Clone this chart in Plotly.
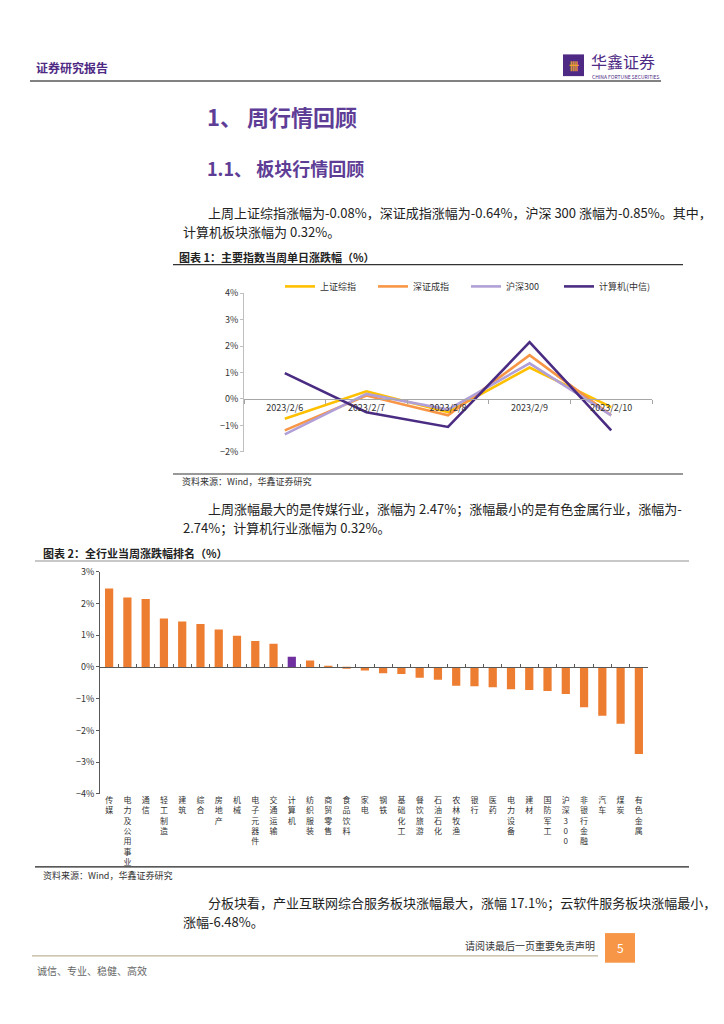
import plotly.graph_objects as go

W, H = 724, 1024
def X(px): return px / W
def Y(py): return 1 - py / H

FONT = "Noto Sans CJK SC"

# ---------- Chart 1 data ----------
dates = ["2023/2/6", "2023/2/7", "2023/2/8", "2023/2/9", "2023/2/10"]
sh_comp = [-0.75, 0.29, -0.50, 1.19, -0.31]      # 上证综指
sz_comp = [-1.19, 0.13, -0.62, 1.66, -0.62]      # 深证成指
hs300 = [-1.34, 0.19, -0.40, 1.35, -0.62]        # 沪深300
computer = [0.98, -0.50, -1.06, 2.15, -1.19]     # 计算机(中信)
series_names = ["上证综指", "深证成指", "沪深300", "计算机(中信)"]
series_colors = ["#FFC000", "#F79646", "#B1A0D8", "#4B2C83"]

# ---------- Chart 2 data ----------
industries = ["传媒", "电力及公用事业", "通信", "轻工制造", "建筑", "综合", "房地产", "机械",
              "电子元器件", "交通运输", "计算机", "纺织服装", "商贸零售", "食品饮料", "家电",
              "钢铁", "基础化工", "餐饮旅游", "石油石化", "农林牧渔", "银行", "医药", "电力设备",
              "建材", "国防军工", "沪深300", "非银行金融", "汽车", "煤炭", "有色金属"]
ind_change = [2.47, 2.19, 2.14, 1.53, 1.43, 1.35, 1.18, 0.98, 0.82, 0.73, 0.32, 0.20, 0.02,
              -0.05, -0.11, -0.20, -0.22, -0.34, -0.40, -0.59, -0.61, -0.64, -0.70, -0.73,
              -0.76, -0.85, -1.27, -1.54, -1.79, -2.74]

def stack(name):
    if name.endswith("300"):
        return "<br>".join(list(name[:-3]) + ["3", "0", "0"])
    return "<br>".join(list(name))

fig = go.Figure()

for name, vals, col in zip(series_names, [sh_comp, sz_comp, hs300, computer], series_colors):
    fig.add_trace(go.Scatter(x=dates, y=vals, name=name, mode="lines",
                             line=dict(color=col, width=2.6), xaxis="x", yaxis="y"))

bar_colors = ["#7030A0" if n == "计算机" else "#ED7D31" for n in industries]
fig.add_trace(go.Bar(x=industries, y=ind_change, marker=dict(color=bar_colors, line=dict(width=0)),
                     width=0.45, showlegend=False, xaxis="x2", yaxis="y2"))
fig.add_trace(go.Scatter(x=industries, y=[None] * len(industries), showlegend=False,
                         hoverinfo="skip", xaxis="x3", yaxis="y2"))

c1_top, c1_bot = 290, 450.5   # 4%, -2%
c1_zero = c1_bot - (c1_bot - c1_top) * 2 / 6
c2_top, c2_bot = 572, 797     # 3%, -4%
c2_zero = c2_top + (c2_bot - c2_top) * 3 / 7

tick_font = dict(family=FONT, size=9, color="#333333")

fig.update_layout(
    width=W, height=H, margin=dict(l=0, r=0, t=0, b=0),
    paper_bgcolor="white", plot_bgcolor="rgba(0,0,0,0)",
    font=dict(family=FONT, color="#222222"),
    showlegend=True,
    legend=dict(orientation="h", x=X(280), y=Y(283), xanchor="left", yanchor="middle",
                font=dict(family=FONT, size=9, color="#333333"),
                entrywidth=48, entrywidthmode="pixels", itemwidth=30,
                bgcolor="rgba(0,0,0,0)", tracegroupgap=0),
    xaxis=dict(domain=[X(244), X(652)], type="category", range=[-0.5, 4.5],
               anchor="free", position=Y(c1_zero), showline=True, linecolor="#A6A6A6",
               linewidth=1, ticks="outside", tickson="boundaries", ticklen=4,
               tickcolor="#A6A6A6", showgrid=False, tickfont=tick_font, fixedrange=True),
    yaxis=dict(domain=[Y(c1_bot), Y(c1_top)], range=[-2, 4], dtick=1, ticksuffix="%",
               anchor="x", showline=True, linecolor="#BFBFBF", ticks="outside", ticklen=3,
               tickcolor="#BFBFBF", showgrid=False, zeroline=False, tickfont=tick_font),
    xaxis2=dict(domain=[X(100), X(648)], type="category", range=[-0.5, 29.5],
                anchor="y2", showline=False, ticks="", showgrid=False,
                tickmode="array", tickvals=industries, ticktext=[stack(n) for n in industries],
                tickfont=dict(family=FONT, size=8, color="#333333")),
    yaxis2=dict(domain=[Y(c2_bot), Y(c2_top)], range=[-4, 3], dtick=1, ticksuffix="%",
                anchor="x2", showline=True, linecolor="#595959", ticks="outside", ticklen=3,
                tickcolor="#595959", showgrid=False, zeroline=False, tickfont=tick_font),
    xaxis3=dict(domain=[X(100), X(648)], type="category", range=[-0.5, 29.5],
                categoryarray=industries, overlaying="x2", anchor="free", position=Y(c2_zero),
                showline=True, linecolor="#595959", ticks="inside", tickson="boundaries",
                ticklen=3, tickcolor="#595959", showticklabels=False, showgrid=False),
)

shapes = []
def hline(y, x0, x1, color, width):
    shapes.append(dict(type="line", xref="paper", yref="paper", x0=X(x0), x1=X(x1),
                       y0=Y(y), y1=Y(y), line=dict(color=color, width=width)))

hline(75, 30, 661, "#595959", 1.5)        # header rule
hline(261, 173, 683, "#333333", 1.2)      # chart1 title rule
hline(473, 173, 683, "#333333", 1.2)      # chart1 bottom rule
hline(561, 35, 689, "#C8C8C8", 2)         # chart2 title rule
hline(871, 35, 689, "#222222", 1.2)       # chart2 bottom rule
hline(961, 32, 598, "#BFB59C", 1.2)       # footer rule
shapes.append(dict(type="rect", xref="paper", yref="paper", x0=X(563), x1=X(584),
                   y0=Y(70), y1=Y(48), fillcolor="#4E2A84", line=dict(width=0)))
shapes.append(dict(type="rect", xref="paper", yref="paper", x0=X(605), x1=X(635),
                   y0=Y(968), y1=Y(938), fillcolor="#F79646", line=dict(width=0)))
fig.update_layout(shapes=shapes)

def txt(text, x, y, size, color="#222222", anchor="left", bold=False):
    if bold:
        text = "<b>" + text + "</b>"
    fig.add_annotation(text=text, x=X(x), y=Y(y), xref="paper", yref="paper",
                       xanchor=anchor, yanchor="middle", showarrow=False,
                       font=dict(family=FONT, size=size, color=color))

PURPLE = "#4E2A84"
HEAD = "#5E3D96"
txt("证券研究报告", 34, 61, 12, PURPLE, bold=True)
txt("卌", 573.5, 59, 10, "#F0A030", anchor="center", bold=True)
txt("华鑫证券", 589, 55, 16, PURPLE)
txt("CHINA FORTUNE SECURITIES", 590, 70, 5, PURPLE)

txt("1、 周行情回顾", 205, 110, 22, HEAD, bold=True)
txt("1.1、 板块行情回顾", 205, 163, 18, HEAD, bold=True)
txt("上周上证综指涨幅为-0.08%，深证成指涨幅为-0.64%，沪深 300 涨幅为-0.85%。其中，", 206, 208, 13)
txt("计算机板块涨幅为 0.32%。", 181, 227, 13)

txt("图表 1：主要指数当周单日涨跌幅（%）", 177, 253, 11, "#222222", bold=True)
txt("资料来源：Wind，华鑫证券研究", 180, 481, 9, "#333333")

txt("上周涨幅最大的是传媒行业，涨幅为 2.47%；涨幅最小的是有色金属行业，涨幅为-", 206, 508, 13)
txt("2.74%；计算机行业涨幅为 0.32%。", 181, 527, 13)

txt("图表 2：全行业当周涨跌幅排名（%）", 41, 553, 11, "#222222", bold=True)
txt("资料来源：Wind，华鑫证券研究", 41, 880, 9, "#333333")

txt("分板块看，产业互联网综合服务板块涨幅最大，涨幅 17.1%；云软件服务板块涨幅最小，", 206, 907, 13)
txt("涨幅-6.48%。", 181, 926, 13)

txt("请阅读最后一页重要免责声明", 597, 951, 10, "#333333", anchor="right")
txt("5", 620, 953, 12, "white", anchor="center")
txt("诚信、专业、稳健、高效", 35, 976, 10, "#666666")

fig.write_html("out.html", config={"displayModeBar": False},
               post_script="document.body.style.margin='0';document.body.style.overflow='hidden';")
